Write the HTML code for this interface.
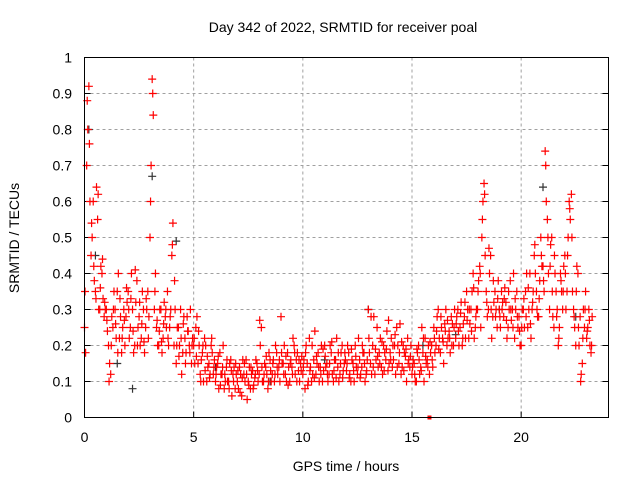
<!DOCTYPE html>
<html><head><meta charset="utf-8"><style>
body{margin:0;background:#fff}
svg{display:block;font-family:"Liberation Sans",sans-serif}
</style></head><body>
<svg id="chart" width="640" height="480">
<text x="343" y="32" text-anchor="middle" font-size="14">Day 342 of 2022, SRMTID for receiver poal</text>
<text x="346" y="471" text-anchor="middle" font-size="14">GPS time / hours</text>
<text transform="translate(19,238) rotate(-90)" text-anchor="middle" font-size="14">SRMTID / TECUs</text>
<g id="grid"></g><g id="ticks"></g><g id="marks"></g>
<rect x="84.5" y="57.5" width="524" height="360" fill="none" stroke="#000"/>
</svg>
<script>
const xTicks=[0,5,10,15,20];
const yTicks=[0,0.1,0.2,0.3,0.4,0.5,0.6,0.7,0.8,0.9,1];
const yTickLabels=["0","0.1","0.2","0.3","0.4","0.5","0.6","0.7","0.8","0.9","1"];
const seriesA=[0.25,0.7,0.92,0.45,0.6,0.35,0.55,0.3,0.4,0.28,
0.3,0.2,0.12,0.25,0.3,0.35,0.22,0.18,0.3,0.28,
0.35,0.25,0.3,0.2,0.38,0.28,0.22,0.3,0.25,0.35,
0.5,0.94,0.3,0.25,0.2,0.3,0.22,0.28,0.35,0.25,
0.45,0.2,0.15,0.25,0.3,0.18,0.22,0.28,0.2,0.15,
0.2,0.25,0.15,0.12,0.18,0.22,0.1,0.15,0.2,0.12,
0.1,0.15,0.18,0.12,0.08,0.14,0.1,0.16,0.12,0.08,
0.1,0.14,0.06,0.12,0.16,0.1,0.08,0.13,0.11,0.15,
0.12,0.25,0.1,0.14,0.08,0.16,0.12,0.1,0.18,0.14,
0.28,0.15,0.12,0.18,0.1,0.14,0.2,0.16,0.13,0.15,
0.12,0.08,0.15,0.22,0.1,0.16,0.12,0.18,0.14,0.1,
0.2,0.15,0.12,0.18,0.1,0.16,0.14,0.12,0.2,0.15,
0.13,0.18,0.1,0.15,0.2,0.12,0.16,0.14,0.18,0.12,
0.3,0.15,0.2,0.12,0.25,0.18,0.14,0.2,0.16,0.13,
0.18,0.14,0.2,0.25,0.15,0.12,0.2,0.17,0.22,0.14,
0.12,0.15,0.1,0.2,0.14,0.18,0.22,0.16,0.12,0.2,
0.25,0.2,0.3,0.18,0.22,0.26,0.2,0.24,0.28,0.2,
0.22,0.3,0.25,0.2,0.28,0.35,0.22,0.3,0.4,0.25,
0.3,0.42,0.5,0.65,0.35,0.3,0.45,0.28,0.35,0.25,
0.3,0.35,0.28,0.32,0.25,0.38,0.3,0.22,0.35,0.28,
0.2,0.3,0.35,0.25,0.4,0.3,0.45,0.35,0.28,0.5,
0.42,0.74,0.55,0.3,0.5,0.25,0.35,0.2,0.4,0.3,
0.45,0.35,0.6,0.62,0.3,0.2,0.4,0.28,0.15,0.25,
0.22,0.3,0.18];
const seriesB=[0.18,0.8,0.6,0.5,0.38,0.64,0.3,0.42,0.33,0.3,
0.24,0.15,0.28,0.35,0.22,0.4,0.28,0.25,0.2,0.32,
0.22,0.4,0.18,0.32,0.25,0.2,0.35,0.18,0.3,0.28,
0.7,0.84,0.4,0.2,0.3,0.18,0.32,0.25,0.2,0.3,
0.54,0.3,0.25,0.2,0.12,0.28,0.18,0.24,0.3,0.22,
0.15,0.28,0.2,0.16,0.1,0.2,0.14,0.12,0.18,0.16,
0.14,0.08,0.12,0.2,0.1,0.1,0.15,0.06,0.14,0.12,
0.08,0.12,0.16,0.1,0.05,0.14,0.12,0.09,0.16,0.1,
0.2,0.1,0.15,0.12,0.18,0.1,0.16,0.2,0.12,0.1,
0.15,0.2,0.1,0.14,0.16,0.22,0.12,0.18,0.1,0.17,
0.16,0.2,0.1,0.14,0.12,0.24,0.15,0.1,0.2,0.13,
0.14,0.1,0.2,0.12,0.16,0.22,0.1,0.18,0.13,0.16,
0.2,0.12,0.16,0.1,0.14,0.22,0.12,0.18,0.1,0.16,
0.18,0.12,0.28,0.16,0.14,0.22,0.12,0.18,0.24,0.15,
0.22,0.16,0.12,0.2,0.26,0.14,0.18,0.1,0.16,0.2,
0.16,0.1,0.18,0.12,0.25,0.1,0.15,0.2,0.18,0.14,
0.18,0.28,0.22,0.25,0.15,0.3,0.22,0.18,0.26,0.3,
0.28,0.2,0.32,0.26,0.22,0.3,0.26,0.35,0.22,0.3,
0.38,0.25,0.6,0.45,0.28,0.4,0.22,0.32,0.3,0.38,
0.25,0.32,0.36,0.22,0.3,0.27,0.4,0.3,0.25,0.2,
0.3,0.25,0.4,0.3,0.22,0.35,0.4,0.28,0.38,0.42,
0.35,0.6,0.4,0.48,0.28,0.4,0.3,0.25,0.35,0.42,
0.3,0.5,0.55,0.35,0.25,0.42,0.2,0.12,0.3,0.35,
0.25,0.2,0.28];
const seriesC=[0.35,0.88,0.76,0.54,0.42,0.33,0.62,0.36,0.44,0.32,
0.27,0.1,0.2,0.3,0.26,0.18,0.33,0.22,0.27,0.36,
0.3,0.33,0.24,0.41,0.2,0.32,0.26,0.21,0.33,0.22,
0.6,0.9,0.35,0.27,0.24,0.21,0.26,0.3,0.22,0.28,
0.48,0.38,0.2,0.17,0.22,0.26,0.15,0.24,0.18,0.2,
0.22,0.17,0.24,0.1,0.2,0.13,0.17,0.11,0.22,0.14,
0.12,0.17,0.09,0.14,0.12,0.16,0.08,0.13,0.1,0.15,
0.13,0.07,0.11,0.15,0.12,0.09,0.14,0.08,0.12,0.13,
0.27,0.14,0.12,0.17,0.1,0.13,0.15,0.12,0.14,0.16,
0.18,0.12,0.17,0.09,0.15,0.12,0.18,0.1,0.16,0.13,
0.14,0.18,0.09,0.13,0.2,0.11,0.17,0.14,0.12,0.19,
0.17,0.12,0.15,0.21,0.13,0.11,0.18,0.15,0.11,0.18,
0.15,0.11,0.19,0.13,0.17,0.14,0.11,0.2,0.15,0.13,
0.22,0.28,0.14,0.19,0.17,0.15,0.21,0.13,0.19,0.27,
0.16,0.2,0.23,0.14,0.18,0.21,0.13,0.19,0.15,0.17,
0.14,0.12,0.19,0.16,0.13,0.22,0.17,0.14,0.21,0.16,
0.22,0.24,0.19,0.28,0.21,0.24,0.27,0.22,0.2,0.25,
0.26,0.24,0.29,0.22,0.32,0.27,0.3,0.24,0.36,0.28,
0.35,0.4,0.55,0.62,0.32,0.47,0.3,0.38,0.28,0.33,
0.28,0.3,0.33,0.27,0.35,0.3,0.25,0.33,0.28,0.24,
0.25,0.33,0.28,0.36,0.26,0.32,0.48,0.3,0.33,0.45,
0.38,0.7,0.5,0.42,0.35,0.45,0.28,0.22,0.38,0.35,
0.4,0.45,0.58,0.5,0.28,0.35,0.25,0.1,0.22,0.3,
0.24,0.27,0.2];
const blackTimes=[0.2,0.5,1.5,2.2,3.1,4.2,6.0,8.5,11.0,13.0,15.5,17.0,19.0,21.0,22.5];
const blackValues=[0.8,0.45,0.15,0.08,0.67,0.49,0.14,0.1,0.16,0.3,0.2,0.23,0.3,0.64,0.28];
const zeroTimes=[15.8];
const NS="http://www.w3.org/2000/svg";
function sx(h){return 84.5+h*524/24;}
function sy(v){return 417.5-v*360;}
const grid=document.getElementById('grid'),ticks=document.getElementById('ticks'),marks=document.getElementById('marks');
function mk(tag,attrs,parent){const e=document.createElementNS(NS,tag);for(const k in attrs)e.setAttribute(k,attrs[k]);parent.appendChild(e);return e;}
xTicks.forEach(t=>{
  const x=sx(t);
  if(t>0){const g=mk('line',{x1:x,x2:x,y1:57.5,y2:417.5,stroke:'#a0a0a0','stroke-dasharray':'3,3'},grid);
  
  }
  mk('line',{x1:x,x2:x,y1:417.5,y2:411.5,stroke:'#000'},ticks);
  const l=mk('text',{x:x,y:442,'text-anchor':'middle','font-size':'14'},ticks);l.textContent=t;
  
  
});
yTicks.forEach((t,i)=>{
  const y=sy(t);
  if(t>0&&t<1){const g=mk('line',{x1:84.5,x2:608.5,y1:y,y2:y,stroke:'#a0a0a0','stroke-dasharray':'3,3'},grid);
  
  }
  mk('line',{x1:84.5,x2:90.5,y1:y,y2:y,stroke:'#000'},ticks);
  mk('line',{x1:608.5,x2:602.5,y1:y,y2:y,stroke:'#000'},ticks);
  const l=mk('text',{x:72,y:y+5,'text-anchor':'end','font-size':'14'},ticks);l.textContent=yTickLabels[i];
  
  
});
function plus(h,v,color,name){
  const x=sx(h),y=sy(v);
  const p=mk('path',{d:`M${x-4},${y}H${x+4}M${x},${y-4}V${y+4}`,stroke:color,'stroke-width':1.2,fill:'none'},marks);
  
  
}
blackTimes.forEach((t,i)=>plus(t,blackValues[i],'#333','black-point'));
seriesA.forEach((v,i)=>plus(i*0.1,v,'#f00','red-point'));
seriesB.forEach((v,i)=>plus(i*0.1+0.05,v,'#f00','red-point'));
seriesC.forEach((v,i)=>plus(i*0.1+0.025,v,'#f00','red-point'));
zeroTimes.forEach(t=>{
  const r=mk('rect',{x:sx(t)-2,y:sy(0)-2,width:4,height:4,fill:'#f00'},marks);
  
  
});
</script>
</body></html>
